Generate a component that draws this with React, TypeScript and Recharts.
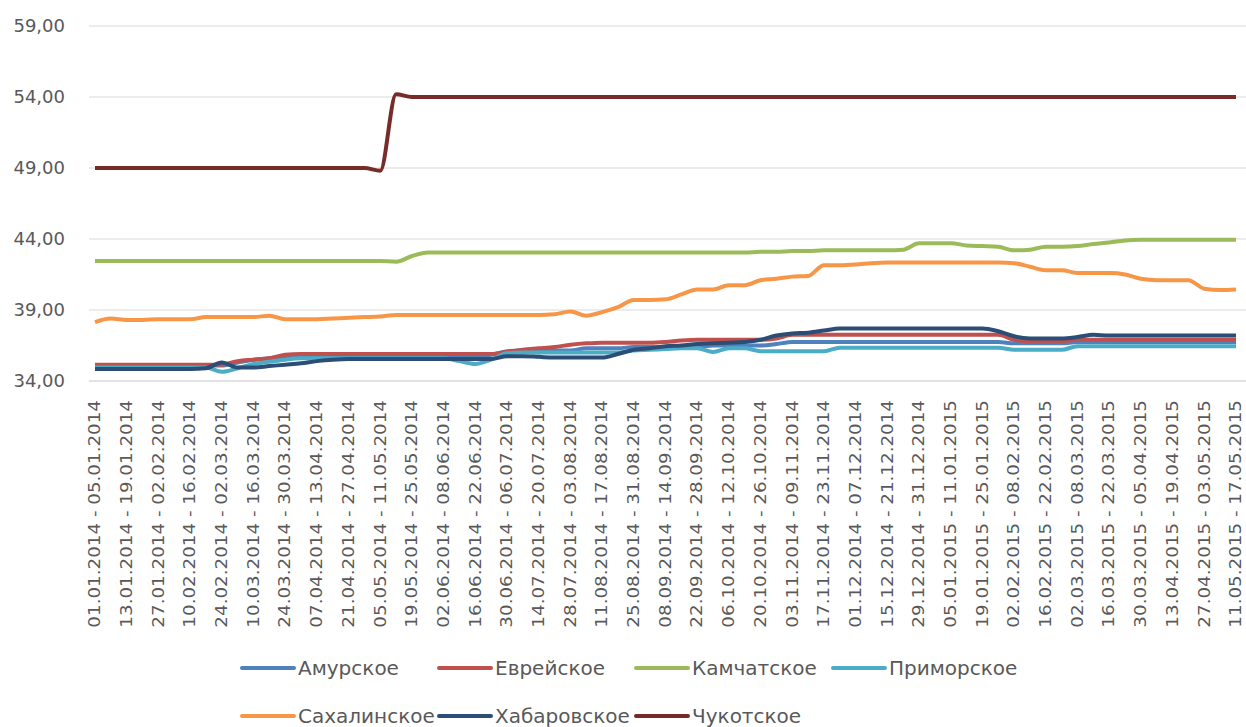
import React from 'react';
import { LineChart, Line, XAxis, YAxis, CartesianGrid, Legend } from 'recharts';

// weekly periods, 01.01.2014 - 17.05.2015
const periods = [
  '01.01.2014 - 05.01.2014', '06.01.2014 - 12.01.2014', '13.01.2014 - 19.01.2014', '20.01.2014 - 26.01.2014',
  '27.01.2014 - 02.02.2014', '03.02.2014 - 09.02.2014', '10.02.2014 - 16.02.2014', '17.02.2014 - 23.02.2014',
  '24.02.2014 - 02.03.2014', '03.03.2014 - 09.03.2014', '10.03.2014 - 16.03.2014', '17.03.2014 - 23.03.2014',
  '24.03.2014 - 30.03.2014', '31.03.2014 - 06.04.2014', '07.04.2014 - 13.04.2014', '14.04.2014 - 20.04.2014',
  '21.04.2014 - 27.04.2014', '28.04.2014 - 04.05.2014', '05.05.2014 - 11.05.2014', '12.05.2014 - 18.05.2014',
  '19.05.2014 - 25.05.2014', '26.05.2014 - 01.06.2014', '02.06.2014 - 08.06.2014', '09.06.2014 - 15.06.2014',
  '16.06.2014 - 22.06.2014', '23.06.2014 - 29.06.2014', '30.06.2014 - 06.07.2014', '07.07.2014 - 13.07.2014',
  '14.07.2014 - 20.07.2014', '21.07.2014 - 27.07.2014', '28.07.2014 - 03.08.2014', '04.08.2014 - 10.08.2014',
  '11.08.2014 - 17.08.2014', '18.08.2014 - 24.08.2014', '25.08.2014 - 31.08.2014', '01.09.2014 - 07.09.2014',
  '08.09.2014 - 14.09.2014', '15.09.2014 - 21.09.2014', '22.09.2014 - 28.09.2014', '29.09.2014 - 05.10.2014',
  '06.10.2014 - 12.10.2014', '13.10.2014 - 19.10.2014', '20.10.2014 - 26.10.2014', '27.10.2014 - 02.11.2014',
  '03.11.2014 - 09.11.2014', '10.11.2014 - 16.11.2014', '17.11.2014 - 23.11.2014', '24.11.2014 - 30.11.2014',
  '01.12.2014 - 07.12.2014', '08.12.2014 - 14.12.2014', '15.12.2014 - 21.12.2014', '22.12.2014 - 28.12.2014',
  '29.12.2014 - 31.12.2014', '01.01.2015 - 04.01.2015', '05.01.2015 - 11.01.2015', '12.01.2015 - 18.01.2015',
  '19.01.2015 - 25.01.2015', '26.01.2015 - 01.02.2015', '02.02.2015 - 08.02.2015', '09.02.2015 - 15.02.2015',
  '16.02.2015 - 22.02.2015', '23.02.2015 - 01.03.2015', '02.03.2015 - 08.03.2015', '09.03.2015 - 15.03.2015',
  '16.03.2015 - 22.03.2015', '23.03.2015 - 29.03.2015', '30.03.2015 - 05.04.2015', '06.04.2015 - 12.04.2015',
  '13.04.2015 - 19.04.2015', '20.04.2015 - 26.04.2015', '27.04.2015 - 03.05.2015', '04.05.2015 - 10.05.2015',
  '11.05.2015 - 17.05.2015',
];

const amur = [
  35.1, 35.1, 35.1, 35.1, 35.1, 35.1, 35.1, 35.1, 35.1, 35.3,
  35.5, 35.6, 35.7, 35.7, 35.7, 35.7, 35.7, 35.75, 35.75, 35.75,
  35.75, 35.75, 35.75, 35.75, 35.75, 35.85, 36.1, 36.15, 36.15, 36.15,
  36.15, 36.3, 36.3, 36.3, 36.4, 36.4, 36.4, 36.4, 36.4, 36.5,
  36.5, 36.5, 36.5, 36.6, 36.75, 36.75, 36.75, 36.75, 36.75, 36.75,
  36.75, 36.75, 36.75, 36.75, 36.75, 36.75, 36.75, 36.75, 36.65, 36.65,
  36.65, 36.65, 36.75, 36.75, 36.75, 36.75, 36.75, 36.75, 36.75, 36.75,
  36.75, 36.75, 36.75,
];

const evrei = [
  35.15, 35.15, 35.15, 35.15, 35.15, 35.15, 35.15, 35.15, 35.15, 35.4,
  35.5, 35.6, 35.85, 35.9, 35.9, 35.9, 35.9, 35.9, 35.9, 35.9,
  35.9, 35.9, 35.9, 35.9, 35.9, 35.9, 36.05, 36.2, 36.3, 36.4,
  36.55, 36.65, 36.7, 36.7, 36.7, 36.7, 36.75, 36.85, 36.9, 36.9,
  36.9, 36.9, 36.9, 37.0, 37.25, 37.25, 37.25, 37.25, 37.25, 37.25,
  37.25, 37.25, 37.25, 37.25, 37.25, 37.25, 37.25, 37.25, 36.9, 36.8,
  36.8, 36.8, 36.9, 36.9, 36.9, 36.9, 36.9, 36.9, 36.9, 36.9,
  36.9, 36.9, 36.9,
];

const kamchatka = [
  42.45, 42.45, 42.45, 42.45, 42.45, 42.45, 42.45, 42.45, 42.45, 42.45,
  42.45, 42.45, 42.45, 42.45, 42.45, 42.45, 42.45, 42.45, 42.45, 42.4,
  42.8, 43.05, 43.05, 43.05, 43.05, 43.05, 43.05, 43.05, 43.05, 43.05,
  43.05, 43.05, 43.05, 43.05, 43.05, 43.05, 43.05, 43.05, 43.05, 43.05,
  43.05, 43.05, 43.1, 43.1, 43.15, 43.15, 43.2, 43.2, 43.2, 43.2,
  43.2, 43.25, 43.7, 43.7, 43.7, 43.55, 43.5, 43.45, 43.2, 43.25,
  43.45, 43.45, 43.5, 43.65, 43.75, 43.9, 43.95, 43.95, 43.95, 43.95,
  43.95, 43.95, 43.95,
];

const primorye = [
  34.95, 34.95, 34.95, 34.95, 34.95, 34.95, 34.95, 34.95, 34.65, 34.9,
  35.2, 35.35, 35.5, 35.6, 35.6, 35.6, 35.6, 35.6, 35.6, 35.6,
  35.6, 35.6, 35.6, 35.4, 35.2, 35.5, 35.95, 36.0, 36.0, 36.0,
  36.0, 36.0, 36.0, 36.0, 36.15, 36.2, 36.25, 36.3, 36.3, 36.05,
  36.3, 36.3, 36.1, 36.1, 36.1, 36.1, 36.1, 36.35, 36.35, 36.35,
  36.35, 36.35, 36.35, 36.35, 36.35, 36.35, 36.35, 36.35, 36.2, 36.2,
  36.2, 36.2, 36.45, 36.45, 36.45, 36.45, 36.45, 36.45, 36.45, 36.45,
  36.45, 36.45, 36.45,
];

const sakhalin = [
  38.15, 38.4, 38.3, 38.3, 38.35, 38.35, 38.35, 38.5, 38.5, 38.5,
  38.5, 38.6, 38.35, 38.35, 38.35, 38.4, 38.45, 38.5, 38.55, 38.65,
  38.65, 38.65, 38.65, 38.65, 38.65, 38.65, 38.65, 38.65, 38.65, 38.7,
  38.9, 38.6, 38.85, 39.2, 39.7, 39.7, 39.75, 40.1, 40.45, 40.45,
  40.75, 40.75, 41.1, 41.2, 41.35, 41.4, 42.15, 42.15, 42.2, 42.3,
  42.35, 42.35, 42.35, 42.35, 42.35, 42.35, 42.35, 42.35, 42.3, 42.05,
  41.8, 41.8, 41.6, 41.6, 41.6, 41.5, 41.2, 41.1, 41.1, 41.1,
  40.5, 40.4, 40.45,
];

const khabarovsk = [
  34.85, 34.85, 34.85, 34.85, 34.85, 34.85, 34.85, 34.9, 35.3, 34.95,
  34.95, 35.05, 35.15, 35.25, 35.4, 35.5, 35.55, 35.55, 35.55, 35.55,
  35.55, 35.55, 35.55, 35.55, 35.55, 35.55, 35.75, 35.75, 35.7, 35.65,
  35.65, 35.65, 35.65, 35.9, 36.2, 36.3, 36.45, 36.5, 36.6, 36.65,
  36.7, 36.75, 36.9, 37.2, 37.35, 37.4, 37.55, 37.7, 37.7, 37.7,
  37.7, 37.7, 37.7, 37.7, 37.7, 37.7, 37.7, 37.5, 37.15, 37.0,
  37.0, 37.0, 37.1, 37.25, 37.2, 37.2, 37.2, 37.2, 37.2, 37.2,
  37.2, 37.2, 37.2,
];

const chukotka = [
  49, 49, 49, 49, 49, 49, 49, 49, 49, 49,
  49, 49, 49, 49, 49, 49, 49, 49, 48.8, 54.2,
  54, 54, 54, 54, 54, 54, 54, 54, 54, 54,
  54, 54, 54, 54, 54, 54, 54, 54, 54, 54,
  54, 54, 54, 54, 54, 54, 54, 54, 54, 54,
  54, 54, 54, 54, 54, 54, 54, 54, 54, 54,
  54, 54, 54, 54, 54, 54, 54, 54, 54, 54,
  54, 54, 54,
];

const yTicks = [34, 39, 44, 49, 54, 59];

const series = [
  { key: 'amur', name: 'Амурское', color: '#4F81BD', values: amur },
  { key: 'evrei', name: 'Еврейское', color: '#C0504D', values: evrei },
  { key: 'kamchatka', name: 'Камчатское', color: '#9BBB59', values: kamchatka },
  { key: 'primorye', name: 'Приморское', color: '#4BACC6', values: primorye },
  { key: 'sakhalin', name: 'Сахалинское', color: '#F79646', values: sakhalin },
  { key: 'khabarovsk', name: 'Хабаровское', color: '#2C4D75', values: khabarovsk },
  { key: 'chukotka', name: 'Чукотское', color: '#772C2A', values: chukotka },
];

const data = periods.map((period, i) => {
  const row: Record<string, string | number> = { period };
  series.forEach((s) => {
    row[s.key] = s.values[i];
  });
  return row;
});

const FONT = '"DejaVu Sans", sans-serif';
const TEXT = '#595959';

const XTick = ({ x, y, payload }: any) => (
  <text
    transform={`translate(${x},${y}) rotate(-90) scale(1.22,1)`}
    textAnchor="end"
    dy="0.35em"
    fontSize={15}
    fontFamily={FONT}
    fill={TEXT}
  >
    {payload.value}
  </text>
);

const YTick = ({ x, y, payload }: any) => (
  <text x={x} y={y} dy="0.35em" textAnchor="end" fontSize={18} fontFamily={FONT} fill={TEXT}>
    {payload.value.toFixed(2).replace('.', ',')}
  </text>
);

const renderLegend = ({ payload }: any) => (
  <div style={{ display: 'flex', flexWrap: 'wrap', width: 800 }}>
    {payload.map((entry: any) => (
      <div key={entry.value} style={{ width: 197, height: 48, display: 'flex', alignItems: 'center' }}>
        <span style={{ width: 56, height: 4, background: entry.color, borderRadius: 2, marginRight: 2 }} />
        <span style={{ fontSize: 20, color: TEXT, fontFamily: FONT, whiteSpace: 'nowrap' }}>{entry.value}</span>
      </div>
    ))}
  </div>
);

export default function App() {
  return (
    <div style={{ position: 'absolute', left: 0, top: 0, background: '#fff' }}>
      <LineChart width={1246} height={727} data={data} margin={{ top: 26, right: 0, left: 0, bottom: 0 }}>
        <CartesianGrid horizontal vertical={false} stroke="#d9d9d9" />
        <XAxis
          dataKey="period"
          interval={1}
          height={346}
          padding={{ left: 6, right: 10 }}
          tickSize={0}
          tickMargin={19}
          tick={<XTick />}
          axisLine={{ stroke: '#d9d9d9' }}
          tickLine={false}
        />
        <YAxis
          domain={[34, 59]}
          ticks={yTicks}
          width={89}
          tickSize={0}
          tickMargin={24}
          tick={<YTick />}
          axisLine={false}
          tickLine={false}
        />
        <Legend
          layout="horizontal"
          verticalAlign="middle"
          align="center"
          content={renderLegend}
          wrapperStyle={{ top: 644, left: 240, width: 800 }}
        />
        {series.map((s) => (
          <Line
            key={s.key}
            type="monotone"
            dataKey={s.key}
            name={s.name}
            stroke={s.color}
            strokeWidth={4}
            dot={false}
            isAnimationActive={false}
          />
        ))}
      </LineChart>
    </div>
  );
}
